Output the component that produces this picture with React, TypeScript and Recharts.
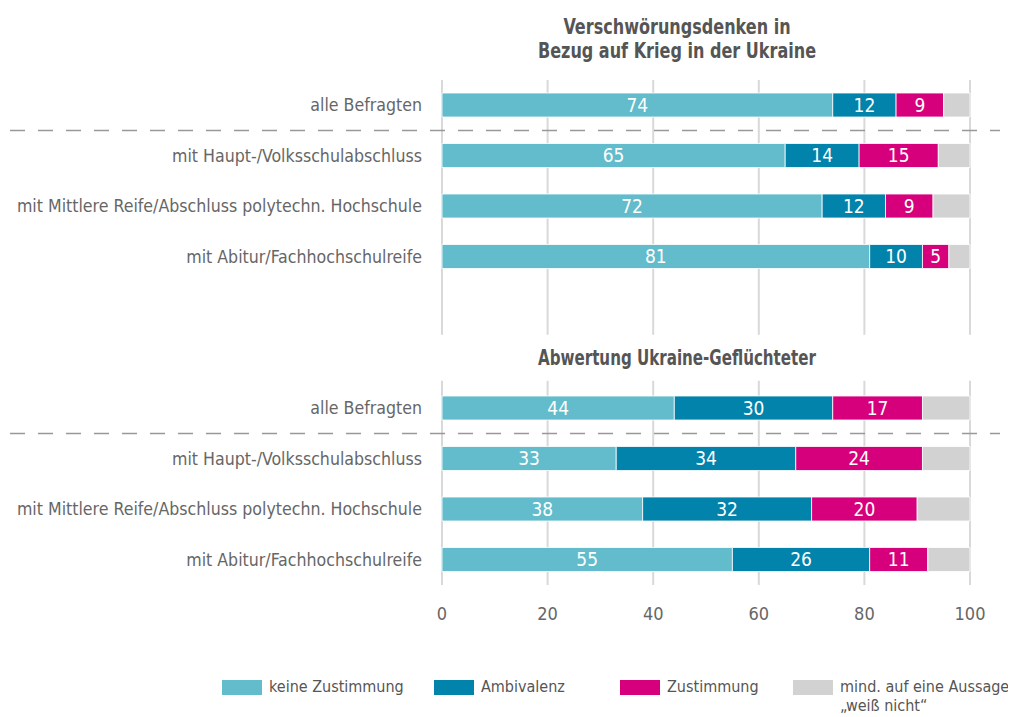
import { Bar, BarChart, CartesianGrid, LabelList, Legend, XAxis, YAxis } from 'recharts'

const rowLabels = [
  'alle Befragten',
  'mit Haupt-/Volksschulabschluss',
  'mit Mittlere Reife/Abschluss polytechn. Hochschule',
  'mit Abitur/Fachhochschulreife',
  '',
  'Abwertung Ukraine-Geflüchteter',
  'alle Befragten',
  'mit Haupt-/Volksschulabschluss',
  'mit Mittlere Reife/Abschluss polytechn. Hochschule',
  'mit Abitur/Fachhochschulreife',
]
const keineZustimmung = [74, 65, 72, 81, null, null, 44, 33, 38, 55]
const ambivalenz = [12, 14, 12, 10, null, null, 30, 34, 32, 26]
const zustimmung = [9, 15, 9, 5, null, null, 17, 24, 20, 11]
const weissNicht = [5, 6, 7, 4, null, null, 9, 9, 10, 8]
const xTicks = [0, 20, 40, 60, 80, 100]
const titel1 = ['Verschwörungsdenken in', 'Bezug auf Krieg in der Ukraine']

const serien = [
  { key: 'keine', name: 'keine Zustimmung', fill: '#62bccb', label: true },
  { key: 'ambi', name: 'Ambivalenz', fill: '#0183ab', label: true },
  { key: 'zust', name: 'Zustimmung', fill: '#d6007d', label: true },
  { key: 'weiss', name: 'mind. auf eine Aussage\n„weiß nicht“', fill: '#d3d2d3', label: false },
]

const daten = rowLabels.map((_, i) => ({
  id: String(i),
  keine: keineZustimmung[i],
  ambi: ambivalenz[i],
  zust: zustimmung[i],
  weiss: weissNicht[i],
}))

const FONT = '"Liberation Sans Narrow", "Arial Narrow", "DejaVu Sans Condensed", sans-serif'
const W = 1008
const H = 709
const M = { top: 72, right: 46, left: 0, bottom: 12 }
const PLOT_LEFT = 434
const PLOT_RIGHT = W - M.right
const HALF_ROW = 25.25
const TITLE_X = 669

function RowTick(props: any) {
  const { y, payload } = props
  const i = Number(payload.value)
  const text = rowLabels[i]
  if (i === 5) {
    return (
      <g>
        <rect x={PLOT_LEFT - 4} y={y - 23} width={PLOT_RIGHT - PLOT_LEFT + 8} height={46} fill="#fff" />
        <g transform={`translate(${TITLE_X}, ${y}) scale(0.8, 1)`}>
          <text x={0} y={0} dy={7} textAnchor="middle" fontFamily={FONT} fontSize={21} fontWeight={700} fill="#555">
            {text}
          </text>
        </g>
      </g>
    )
  }
  return (
    <g>
      <text x={414} y={y} dy={6} textAnchor="end" fontFamily={FONT} fontSize={17.6} fill="#666">
        {text}
      </text>
      {text === 'alle Befragten' && (
        <line x1={2} x2={992} y1={y + HALF_ROW} y2={y + HALF_ROW} stroke="#999" strokeWidth={1.5} strokeDasharray="15 13" />
      )}
    </g>
  )
}

const legendLeft = [214, 426, 612, 785]

function LegendInhalt() {
  return (
    <div style={{ position: 'relative', height: 80, fontFamily: FONT, fontSize: 16, color: '#555' }}>
      {serien.map((s, i) => (
        <div key={s.key} style={{ position: 'absolute', left: legendLeft[i], top: 55, display: 'flex', alignItems: 'flex-start' }}>
          <span style={{ display: 'inline-block', flex: 'none', width: 40, height: 15, background: s.fill, marginRight: 7 }} />
          <span style={{ whiteSpace: 'pre', lineHeight: '19px', marginTop: -3 }}>{s.name}</span>
        </div>
      ))}
    </div>
  )
}

export default function App() {
  return (
    <BarChart width={W} height={H} data={daten} layout="vertical" margin={M} barCategoryGap={0}>
      <CartesianGrid horizontal={false} stroke="#d9d9d9" strokeWidth={2} />
      <XAxis
        type="number"
        domain={[0, 100]}
        ticks={xTicks}
        axisLine={false}
        tickLine={false}
        height={40}
        tickMargin={16}
        tick={{ fontFamily: FONT, fontSize: 18, fill: '#666' }}
      />
      <YAxis type="category" dataKey="id" width={PLOT_LEFT} axisLine={false} tickLine={false} interval={0} tick={<RowTick />} />
      <Legend verticalAlign="bottom" height={80} content={<LegendInhalt />} />
      {serien.map((s) => (
        <Bar key={s.key} dataKey={s.key} name={s.name} stackId="a" fill={s.fill} barSize={24} stroke="#fff" strokeWidth={0.8} isAnimationActive={false}>
          {s.label && <LabelList dataKey={s.key} position="center" fill="#fff" fontFamily={FONT} fontSize={19} />}
        </Bar>
      ))}
      <g transform={`translate(${TITLE_X}, 0) scale(0.85, 1)`}>
        <text x={0} y={26} textAnchor="middle" fontFamily={FONT} fontSize={21} fontWeight={700} fill="#555">
          {titel1[0]}
        </text>
        <text x={0} y={50} textAnchor="middle" fontFamily={FONT} fontSize={21} fontWeight={700} fill="#555">
          {titel1[1]}
        </text>
      </g>
    </BarChart>
  )
}
